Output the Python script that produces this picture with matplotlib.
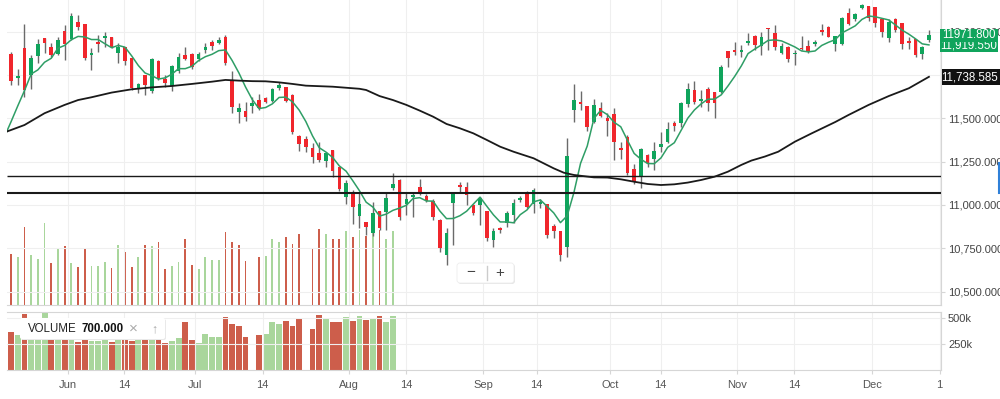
import numpy as np
import matplotlib.pyplot as plt
from matplotlib.patches import Rectangle, FancyBboxPatch
from matplotlib.lines import Line2D
from matplotlib.transforms import IdentityTransform
from matplotlib.ticker import FuncFormatter

plt.rcParams['font.family'] = ['Liberation Sans', 'DejaVu Sans']

# daily candles (one per trading day, Jun -> Dec)
opens = [11871, 11734, 11903, 11750, 11859, 11961, 11909, 11869, 12003, 11957,
         12057, 12042, 11865, 11940, 11961, 11967, 11878, 11913, 11846, 11673,
         11750, 11659, 11830, 11727, 11686, 11775, 11865, 11869, 11840, 11894,
         11938, 11932, 11967, 11721, 11534, 11542, 11571, 11606, 11619, 11602,
         11673, 11678, 11634, 11398, 11379, 11331, 11298, 11254, 11317, 11217,
         11044, 11067, 10937, 10904, 10837, 10966, 10962, 11096, 11144, 11006,
         11048, 11102, 11052, 11025, 10914, 10712, 11010, 11115, 11106, 11000,
         11000, 10967, 10798, 10865, 10894, 10942, 11029, 11071, 11006, 11004,
         11006, 10881, 10852, 10756, 11548, 11596, 11571, 11479, 11557, 11500,
         11525, 11331, 11394, 11206, 11163, 11288, 11265, 11336, 11365, 11471,
         11471, 11582, 11663, 11600, 11667, 11653, 11653, 11890, 11894, 11884,
         11932, 11974, 11917, 12023, 11990, 11878, 11913, 11871, 11907, 11917,
         11926, 12009, 12028, 11928, 11928, 12109, 12071, 12134, 12147, 12144,
         12071, 11965, 12071, 12047, 11948, 11955, 11871, 11951]
highs = [11884, 11784, 12044, 11865, 11955, 11961, 11936, 11971, 12038, 12105,
         12096, 12042, 11903, 11980, 11999, 11967, 11932, 11913, 11846, 11702,
         11750, 11846, 11836, 11750, 11807, 11875, 11913, 11875, 11884, 11932,
         11951, 11971, 11980, 11775, 11586, 11596, 11625, 11638, 11625, 11673,
         11711, 11678, 11638, 11404, 11398, 11356, 11365, 11308, 11317, 11221,
         11144, 11087, 11067, 10904, 11019, 10966, 11067, 11186, 11148, 11067,
         11077, 11148, 11061, 11033, 10917, 10865, 11071, 11134, 11134, 11006,
         11048, 10967, 10865, 10875, 10967, 11033, 11052, 11083, 11096, 11033,
         11006, 10891, 10852, 11385, 11698, 11659, 11571, 11609, 11596, 11529,
         11557, 11365, 11404, 11236, 11327, 11294, 11365, 11423, 11481, 11486,
         11596, 11702, 11717, 11663, 11678, 11653, 11807, 11890, 11942, 11923,
         11990, 11980, 11999, 12023, 12038, 11932, 11917, 11894, 11974, 11951,
         11951, 12044, 12032, 11974, 12086, 12134, 12109, 12159, 12147, 12144,
         12071, 12071, 12076, 12051, 11967, 11955, 11917, 12009]
lows = [11692, 11692, 11625, 11667, 11817, 11875, 11855, 11865, 11836, 11951,
        12009, 11836, 11778, 11884, 11913, 11903, 11821, 11807, 11663, 11648,
        11634, 11644, 11721, 11682, 11659, 11763, 11836, 11784, 11832, 11875,
        11894, 11928, 11807, 11532, 11471, 11486, 11529, 11548, 11586, 11596,
        11663, 11596, 11409, 11313, 11308, 11240, 11250, 11221, 11163, 11083,
        11006, 10891, 10865, 10827, 10821, 10856, 10856, 11087, 10914, 10942,
        10933, 11058, 11019, 10914, 10731, 10654, 10769, 11067, 11000, 10942,
        10885, 10794, 10760, 10837, 10875, 10898, 11019, 10981, 10952, 10981,
        10808, 10808, 10679, 10702, 11481, 11548, 11429, 11475, 11505, 11398,
        11260, 11263, 11173, 11121, 11100, 11221, 11202, 11308, 11356, 11429,
        11448, 11563, 11582, 11567, 11544, 11500, 11648, 11794, 11865, 11852,
        11923, 11894, 11865, 11894, 11894, 11871, 11826, 11807, 11894, 11878,
        11917, 11980, 11967, 11888, 11923, 12038, 12063, 12128, 12063, 12028,
        11967, 11942, 11999, 11898, 11898, 11852, 11840, 11942]
closes = [11715, 11744, 11663, 11846, 11928, 11932, 11863, 11951, 11926, 12092,
          12028, 11846, 11878, 11926, 11974, 11909, 11913, 11830, 11673, 11696,
          11692, 11840, 11730, 11705, 11803, 11852, 11842, 11798, 11871, 11913,
          11919, 11951, 11817, 11563, 11561, 11509, 11590, 11557, 11592, 11669,
          11692, 11600, 11423, 11352, 11336, 11279, 11260, 11298, 11198, 11092,
          11125, 10987, 11006, 10871, 10952, 10865, 11039, 11119, 10933, 11035,
          11058, 11063, 11025, 10929, 10750, 10837, 11071, 11102, 11058, 10956,
          11039, 10808, 10852, 10856, 10956, 11013, 11042, 10990, 11087, 11015,
          10827, 10850, 10712, 11283, 11606, 11582, 11448, 11575, 11513, 11486,
          11365, 11317, 11183, 11134, 11321, 11240, 11311, 11350, 11436, 11457,
          11590, 11667, 11592, 11611, 11590, 11590, 11794, 11846, 11884, 11894,
          11948, 11923, 11967, 12013, 11909, 11917, 11840, 11878, 11898, 11884,
          11942, 11996, 11971, 11974, 12076, 12044, 12101, 12153, 12076, 12051,
          11999, 12057, 12009, 11926, 11932, 11865, 11913, 11980]

# short moving average (green), one value per candle, plus the value at the left edge
ma_start = 11423
ma_fast = [11480, 11571, 11659, 11755, 11779, 11823, 11846, 11904, 11920, 11953,
           11972, 11969, 11954, 11954, 11930, 11907, 11920, 11910, 11860, 11804,
           11761, 11746, 11726, 11733, 11754, 11786, 11786, 11800, 11833, 11855,
           11869, 11890, 11894, 11833, 11762, 11680, 11608, 11556, 11562, 11583,
           11620, 11622, 11595, 11547, 11481, 11398, 11330, 11305, 11274, 11225,
           11195, 11140, 11082, 11016, 10988, 10936, 10947, 10969, 10982, 10998,
           11037, 11042, 11023, 11022, 10965, 10921, 10922, 10938, 10964, 11005,
           11045, 10993, 10943, 10902, 10902, 10897, 10944, 10971, 11018, 11029,
           10992, 10954, 10898, 10937, 11070, 11240, 11340, 11499, 11545, 11521,
           11477, 11451, 11373, 11297, 11264, 11239, 11238, 11271, 11332, 11359,
           11429, 11500, 11548, 11583, 11610, 11610, 11635, 11686, 11741, 11802,
           11873, 11899, 11923, 11949, 11952, 11946, 11929, 11911, 11888, 11883,
           11888, 11920, 11938, 11953, 11992, 12012, 12033, 12070, 12090, 12085,
           12076, 12067, 12038, 12008, 11985, 11958, 11929, 11923]

# long moving average (black), sampled along the chart
ma_slow_pos = [-0.65, 2, 5, 8, 10, 12, 15, 18, 21, 24, 27, 30, 32, 34, 36, 38, 40, 42,
               44, 48, 52, 53, 55, 57, 59, 61, 63, 65, 67, 69, 71, 73, 75, 78, 81,
               82.5, 84, 87, 89, 91, 93, 95, 97, 99, 101, 103, 105, 107, 109, 110.5,
               112.5, 114.5, 117, 119.5, 123, 125, 128, 131, 134, 137]
ma_slow = [11423, 11461, 11529, 11577, 11605, 11621, 11648, 11667, 11678, 11686,
           11698, 11711, 11721, 11717, 11714, 11713, 11707, 11698, 11688, 11682,
           11670, 11663, 11628, 11605, 11577, 11544, 11509, 11467, 11442, 11413,
           11375, 11336, 11307, 11269, 11211, 11186, 11173, 11159, 11158, 11148,
           11134, 11121, 11115, 11119, 11129, 11144, 11163, 11192, 11231, 11256,
           11279, 11307, 11365, 11413, 11478, 11519, 11577, 11628, 11673, 11739]

# volume in thousands (only the first candles have it), None = no bar
volume = [361, 339, 539, 354, 327, 570, 298, 399, 416, 298,
          272, 394, 283, 283, 309, 265, 421, 372, 276, 343,
          421, 416, 443, 261, 283, 309, 459, 287, 261, 343,
          321, 321, 506, 439, 421, 316, None, 339, 349, 459,
          440, 473, 425, 491, None, 393, 530, 497, 460, 459,
          513, 475, 521, 484, 500, 521, 458, 515]
volume_dir = 'rgrgggrgrgrrgggrgrrgrgrrggrrggggrrrr-rgggrrr-rrgrrgrgrgrgg'

levels = [11169, 11071]
price_ticks = [10500, 10750, 11000, 11250, 11500, 11750, 12000]
date_pos = [8.46, 16.9, 27.46, 37.57, 50.45, 58.96, 70.5, 78.45,
            89.4, 96.97, 108.4, 116.9, 128.5, 138.6]
date_labels = ['Jun', '14', 'Jul', '14', 'Aug', '14', 'Sep', '14',
               'Oct', '14', 'Nov', '14', 'Dec', '1']

GREEN = '#10a45c'
RED = '#f0262c'
VGREEN = '#a9d69c'
VRED = '#cd5e4b'
GRID = '#efefef'
EDGE = '#d6d6d6'

W, H = 1000, 399
fig = plt.figure(figsize=(W / 100, H / 100), dpi=100)


def rect(x0, y0, x1, y1):
    return [x0 / W, 1 - y1 / H, (x1 - x0) / W, (y1 - y0) / H]


ax = fig.add_axes(rect(6.7, 0, 941, 305))
axv = fig.add_axes(rect(6.7, 312, 941, 370), sharex=ax)
ov = ax.twinx()
ov.set_zorder(0)
ax.set_zorder(1)
ax.patch.set_visible(False)

idx = np.arange(len(closes))
o = np.array(opens)
c = np.array(closes)
up = c >= o

# volume overlay inside the price panel
vx = [i for i, v in enumerate(volume) if v is not None]
vy = [volume[i] for i in vx]
vcol = [VGREEN if volume_dir[i] == 'g' else VRED for i in vx]
ov.bar(vx, vy, width=0.26, color=vcol, linewidth=0)
ov.set_ylim(20, 2057)
ov.set_yticks([])
for s in ov.spines.values():
    s.set_visible(False)

# price panel
ax.vlines(idx, lows, highs, color='#6a6a6a', lw=1, zorder=2)
ax.bar(idx, np.maximum(np.abs(c - o), 8), bottom=np.minimum(o, c), width=0.55,
       color=np.where(up, GREEN, RED), linewidth=0, zorder=3)
ax.plot(np.r_[-0.65, idx], [ma_start] + ma_fast, color='#2f9e66', lw=1.1, zorder=4)
ax.plot(ma_slow_pos, ma_slow, color='#1a1a1a', lw=1.3, zorder=4)
ax.hlines(levels[0], -0.65, 139, color='#1a1a1a', lw=1.0, zorder=4)
ax.hlines(levels[1], -0.65, 139, color='#1a1a1a', lw=1.5, zorder=4)

ax.set_xlim(-0.65, 138.8)
ax.set_ylim(10423, 12182)
ax.yaxis.tick_right()
ax.set_yticks(price_ticks)
ax.yaxis.set_major_formatter(FuncFormatter(lambda v, p: f'{v:,.3f}'))
ax.tick_params(axis='y', length=3, color=EDGE, labelsize=8, labelcolor='#444', pad=2)
ax.set_xticks(date_pos)
ax.tick_params(axis='x', length=0, labelbottom=False)
ax.grid(True, color=GRID, lw=0.8)
for k in ['top', 'left']:
    ax.spines[k].set_visible(False)
ax.spines['right'].set_color(EDGE)
ax.spines['bottom'].set_color(EDGE)

# volume panel
axv.bar(vx, vy, width=0.88, color=vcol, linewidth=0)
axv.set_ylim(0, 558)
axv.yaxis.tick_right()
axv.set_yticks([250, 500])
axv.set_yticklabels(['250k', '500k'])
axv.tick_params(axis='y', length=3, color=EDGE, labelsize=8, labelcolor='#444', pad=2)
axv.set_xticks(date_pos)
axv.set_xticklabels(date_labels)
axv.tick_params(axis='x', length=3, color=EDGE, labelsize=8, labelcolor='#555', pad=4)
axv.grid(True, color=GRID, lw=0.8)
axv.spines['left'].set_visible(False)
for k in ['top', 'right', 'bottom']:
    axv.spines[k].set_color(EDGE)

# price tags on the right
ident = IdentityTransform()


def px_box(x0, y0, x1, y1, color, z, **kw):
    p = Rectangle((x0, H - y1), x1 - x0, y1 - y0, transform=ident,
                  facecolor=color, edgecolor='none', zorder=z, **kw)
    fig.add_artist(p)


px_box(940, 40, 998, 52, GREEN, 10)
fig.text(969 / W, 1 - 45.5 / H, '11,919.550', color='white', fontsize=8.3,
         ha='center', va='center', zorder=11)
px_box(940, 29, 998, 42, GREEN, 12)
fig.text(969 / W, 1 - 35.5 / H, '11971.800', color='white', fontsize=8.3,
         ha='center', va='center', zorder=13)
px_box(942, 69, 1000, 85, '#111111', 12)
fig.text(970 / W, 1 - 77 / H, '11,738.585', color='white', fontsize=8.3,
         ha='center', va='center', zorder=13)
fig.add_artist(Line2D([999, 999], [H - 163, H - 193], transform=ident,
                      color='#2f80d8', lw=1.5, zorder=12))

# zoom buttons
fig.add_artist(FancyBboxPatch((458, H - 284), 57, 20, boxstyle='round,pad=0,rounding_size=3',
                              transform=ident, facecolor='#e6e6e6', edgecolor='none', zorder=9))
fig.add_artist(FancyBboxPatch((457, H - 283), 57, 20, boxstyle='round,pad=0,rounding_size=3',
                              transform=ident, facecolor='white', edgecolor='#eeeeee', lw=0.6, zorder=10))
fig.text(471 / W, 1 - 272.5 / H, '\u2212', fontsize=11, color='#444', ha='center', va='center', zorder=11)
fig.text(500 / W, 1 - 272.5 / H, '+', fontsize=11, color='#444', ha='center', va='center', zorder=11)
fig.add_artist(Line2D([486.5, 486.5], [H - 266, H - 280], transform=ident,
                      color='#cccccc', lw=1, zorder=11))

# volume legend
fig.add_artist(FancyBboxPatch((21, H - 340), 145, 21, boxstyle='round,pad=0,rounding_size=2',
                              transform=ident, facecolor='#e9e9e9', edgecolor='none', zorder=9))
fig.add_artist(FancyBboxPatch((20, H - 339), 145, 21, boxstyle='round,pad=0,rounding_size=2',
                              transform=ident, facecolor='white', edgecolor='none', zorder=10))
fig.text(28 / W, 1 - 329 / H, 'VOLUME', fontsize=8.3, color='#222', va='center', zorder=11)
fig.text(82 / W, 1 - 329 / H, '700.000', fontsize=8.3, color='#111', weight='bold',
         va='center', zorder=11)
fig.text(133 / W, 1 - 329 / H, '\u00d7', fontsize=11, color='#aaa', ha='center', va='center', zorder=11)
fig.text(154 / W, 1 - 329 / H, '\u2191', fontsize=9, color='#aaa', ha='center', va='center', zorder=11)

fig.savefig('out.png', dpi=100)
